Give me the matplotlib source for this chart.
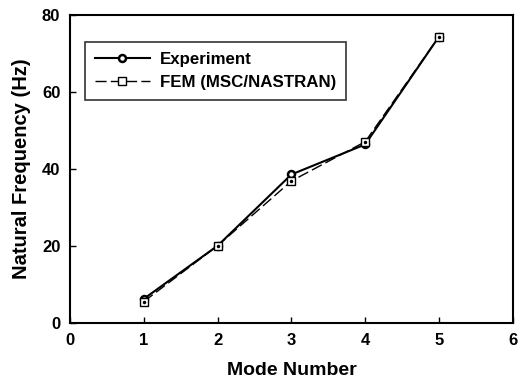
import matplotlib
matplotlib.use("Agg")
import matplotlib.pyplot as plt

plt.rcParams['font.family'] = ['Liberation Sans', 'DejaVu Sans']
plt.rcParams['font.weight'] = 'bold'

modos = [1, 2, 3, 4, 5]
experimento = [6.3, 20.1, 38.6, 46.4, 74.4]
fem = [5.6, 20.1, 36.9, 47.1, 74.4]

fig = plt.figure(figsize=(5.19, 3.86), dpi=100)
ax = fig.add_axes([0.135, 0.163, 0.853, 0.798])

ax.plot(modos, experimento, color='black', lw=1.5, marker='o', ms=5,
        mfc='white', mec='black', mew=1.8, label='Experiment')
ax.plot(modos, fem, color='black', lw=1.0, ls=(0, (8, 3)), marker='s', ms=6,
        mfc='white', mec='black', mew=1.0, label='FEM (MSC/NASTRAN)')
ax.plot(modos, fem, ls='none', marker='.', ms=3, color='black')

ax.set_xlim(0, 6)
ax.set_ylim(0, 80)
ax.set_xticks(range(0, 7))
ax.set_yticks(range(0, 81, 20))
ax.tick_params(direction='in', length=4, width=1, labelsize=12, pad=7)
for s in ax.spines.values():
    s.set_linewidth(1.5)
ax.set_xlabel('Mode Number', fontsize=14, fontweight='bold', labelpad=10)
ax.set_ylabel('Natural Frequency (Hz)', fontsize=14.5, fontweight='bold', labelpad=8)

leg = ax.legend(loc='upper left', bbox_to_anchor=(0.015, 0.94), fontsize=12.2,
                frameon=True, fancybox=False, edgecolor='black',
                handlelength=3.2, handletextpad=0.6, borderpad=0.6,
                borderaxespad=0.5, labelspacing=0.45)
leg.get_frame().set_linewidth(1.2)

fig.savefig('out.png', dpi=100)
